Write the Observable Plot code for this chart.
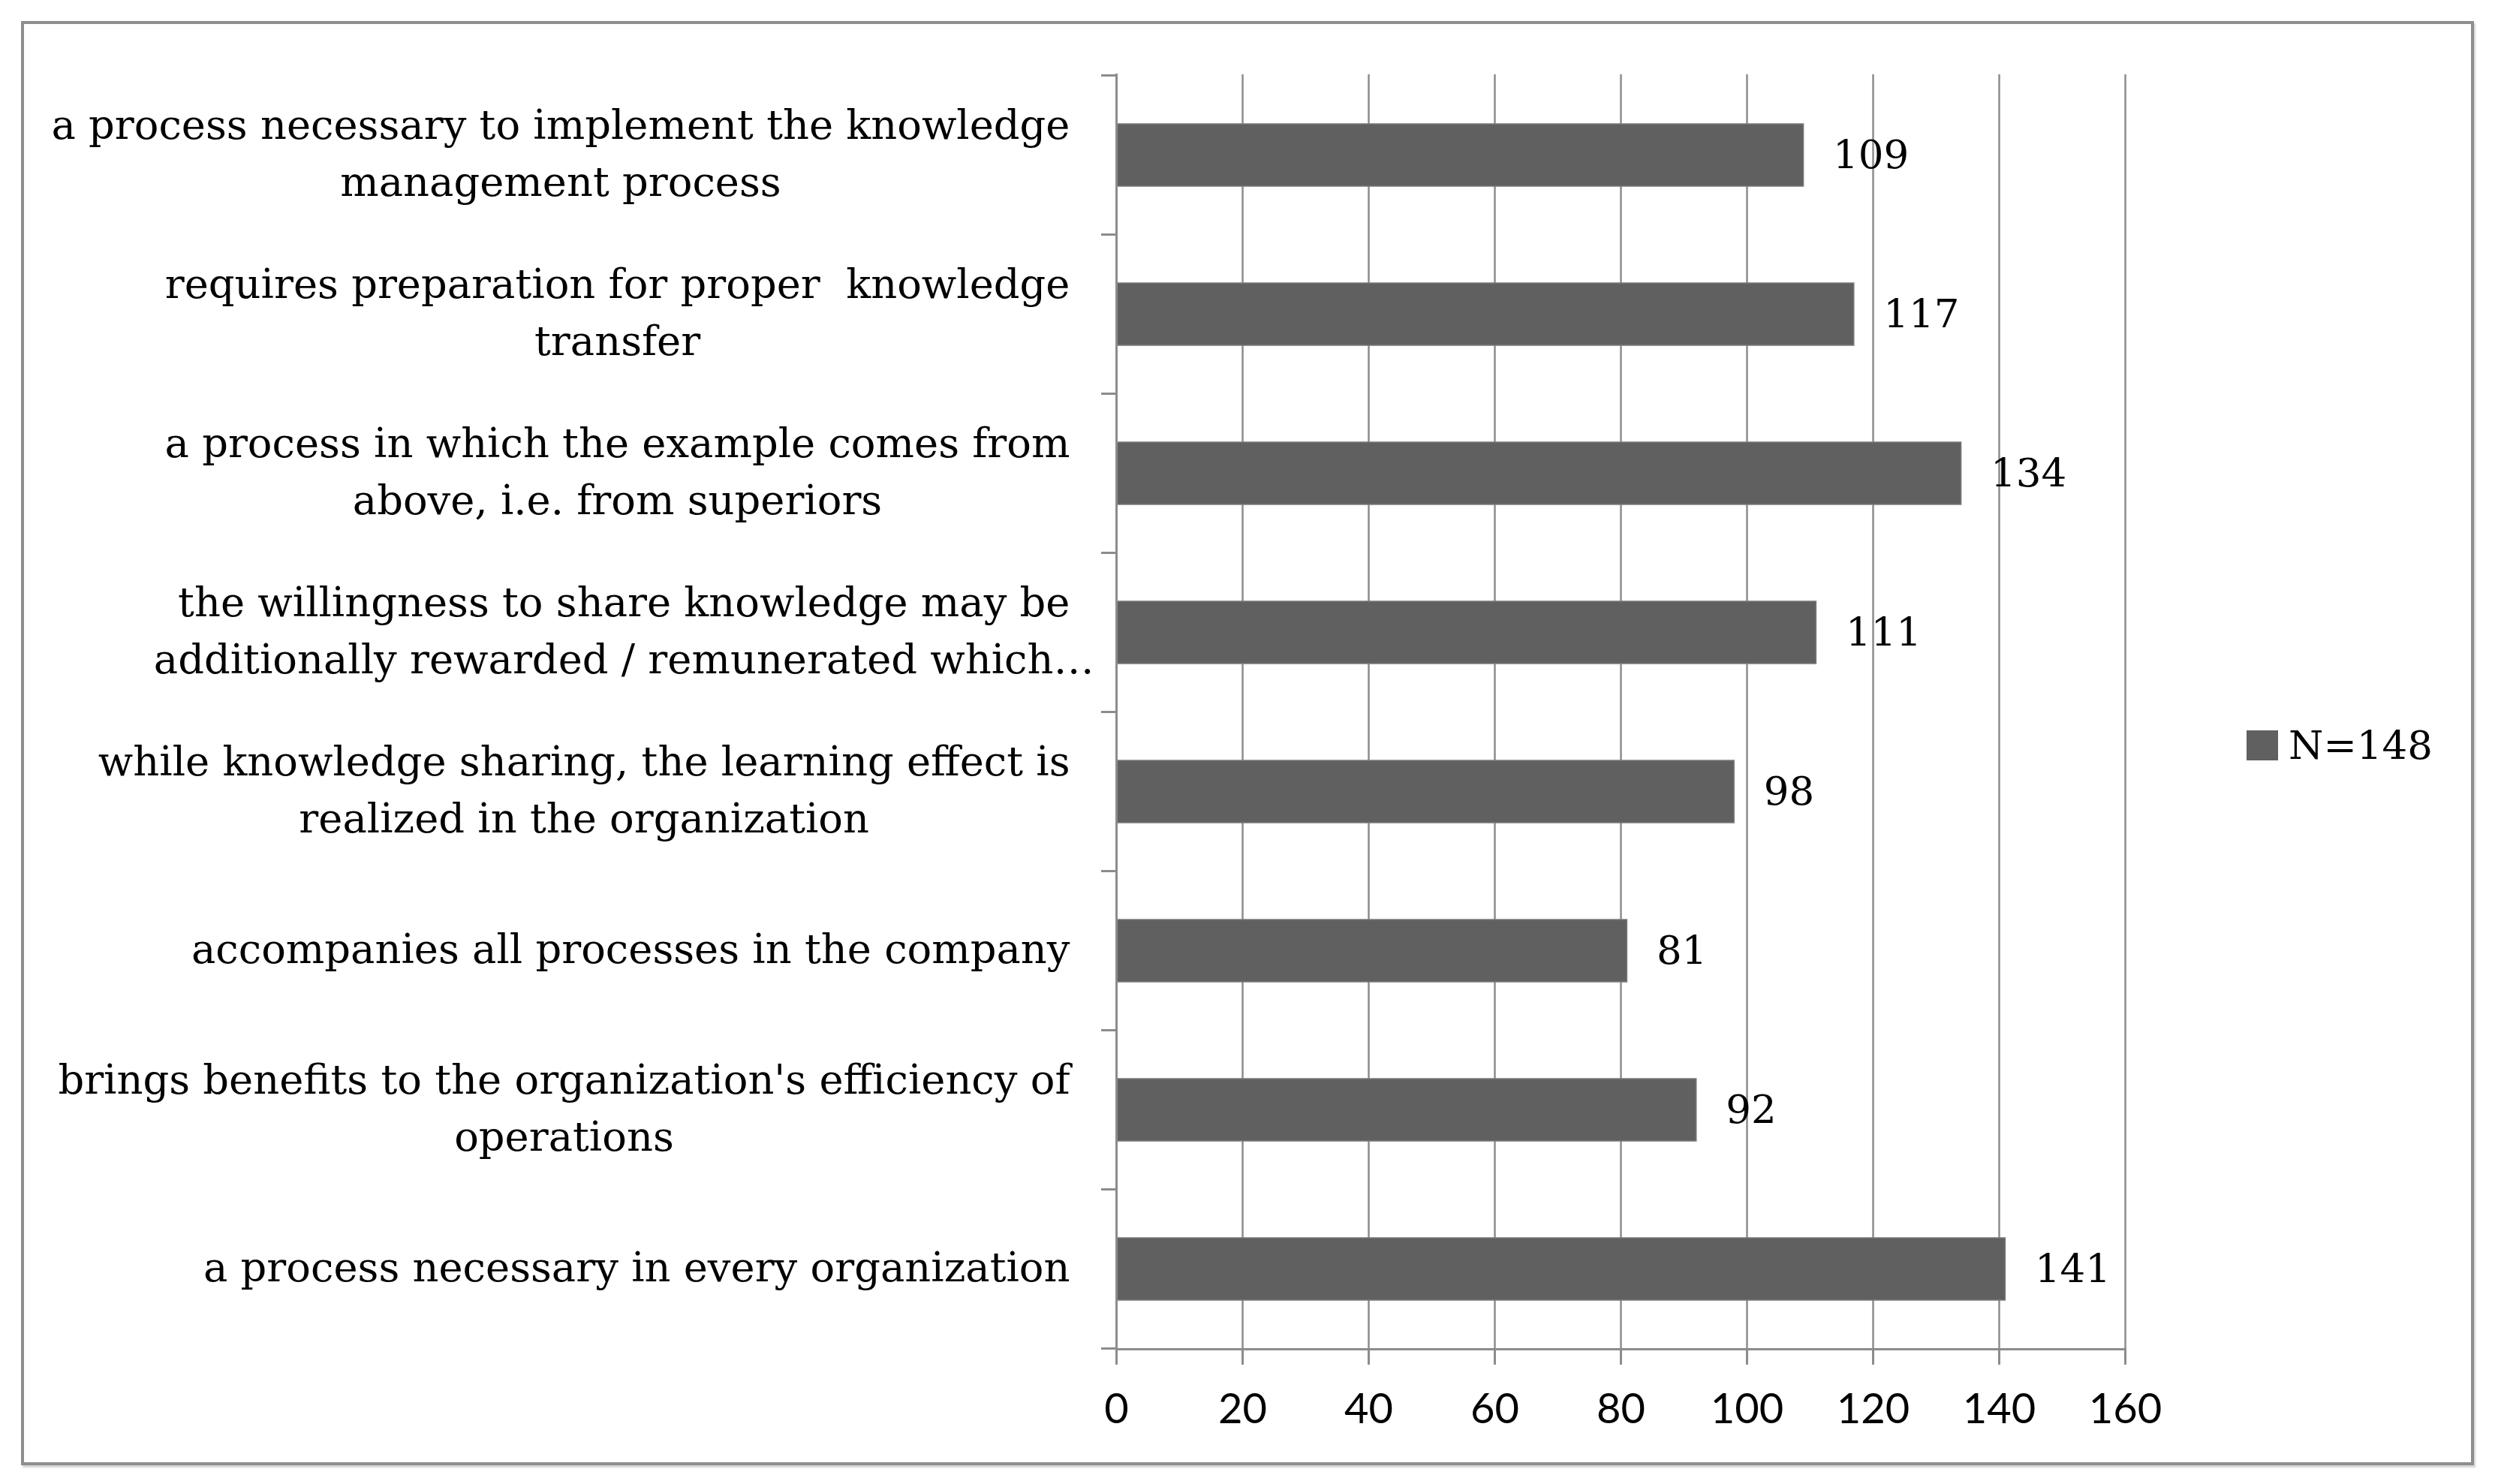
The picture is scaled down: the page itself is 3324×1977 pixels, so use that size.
<!DOCTYPE html>
<html>
<head>
<meta charset="utf-8">
<script src="https://cdn.jsdelivr.net/npm/d3@7"></script>
<script src="https://cdn.jsdelivr.net/npm/@observablehq/plot@0.6"></script>
<style>
html,body{margin:0;padding:0;background:#fff;}
#wrap{position:relative;width:3324px;height:1977px;overflow:hidden;background:#fff;}
#frame{position:absolute;left:28px;top:28px;width:3268px;height:1924px;box-sizing:border-box;border:4px solid #8e8e8e;box-shadow:2px 3px 2px #d4d4d4;}
#chart{position:absolute;left:0;top:0;}
#legend{position:absolute;left:2993px;top:962px;display:flex;align-items:center;font-family:"DejaVu Serif";font-size:53px;color:#000;}
#legend .sw{width:42px;height:40px;background:#606060;margin-right:14px;}
</style>
</head>
<body>
<div id="wrap"><div id="frame"></div><div id="chart"></div><div id="legend"></div></div>
<script>
const categories = [
  "a process necessary to implement the knowledge\nmanagement process",
  "requires preparation for proper  knowledge\ntransfer",
  "a process in which the example comes from\nabove, i.e. from superiors",
  "the willingness to share knowledge may be\nadditionally rewarded / remunerated which…",
  "while knowledge sharing, the learning effect is\nrealized in the organization",
  "accompanies all processes in the company",
  "brings benefits to the organization's efficiency of\noperations",
  "a process necessary in every organization"
];
const values = [109, 117, 134, 111, 98, 81, 92, 141];
const xTicks = [0, 20, 40, 60, 80, 100, 120, 140, 160];
const seriesName = "N=148";

const data = categories.map((c, i) => ({category: c, value: values[i]}));
const gray = "#8c8c8c";
const barFill = "#606060";

const chart = Plot.plot({
  width: 3324,
  height: 1977,
  marginLeft: 1487,
  marginRight: 493,
  marginTop: 99,
  marginBottom: 180,
  style: {background: "transparent", overflow: "visible"},
  x: {domain: [0, 160], ticks: xTicks},
  y: {domain: categories, paddingInner: 0.61, paddingOuter: 0.305},
  marks: [
    Plot.gridX(xTicks, {stroke: gray, strokeOpacity: 1, strokeWidth: 2.5}),
    Plot.barX(data, {x: "value", y: "category", fill: barFill, stroke: "#7a7a7a", strokeWidth: 1.5}),
    Plot.frame({anchor: "left", stroke: gray, strokeWidth: 3}),
    Plot.frame({anchor: "bottom", stroke: gray, strokeWidth: 3}),
    Plot.text(data, {x: "value", y: "category", text: d => String(d.value), textAnchor: "start", dx: 39,
      fontFamily: "DejaVu Serif", fontSize: 53, fill: "#000"}),
    Plot.axisX({ticks: xTicks, tickSize: 21, tickPadding: 38, stroke: gray, strokeWidth: 3,
      fill: "#000", fontSize: 56, fontFamily: "Lato", label: null}),
    Plot.axisY({tickSize: 0, tickPadding: 62, dy: -8, fill: "#000", fontSize: 54.3, fontFamily: "DejaVu Serif",
      lineHeight: 1.39, label: null})
  ]
});

document.getElementById("chart").appendChild(chart);
const svg = d3.select(chart);

// category boundary ticks on the y axis (from the band scale)
const ys = chart.scale("y");
const xs = chart.scale("x");
const off = (ys.step - ys.bandwidth) / 2;
const bounds = categories.map(c => ys.apply(c) - off);
bounds.push(bounds[bounds.length - 1] + ys.step);
const x0 = xs.apply(0);
svg.append("g").attr("stroke", gray).attr("stroke-width", 3)
  .selectAll("line").data(bounds).join("line")
  .attr("x1", x0 - 20).attr("x2", x0)
  .attr("y1", d => d).attr("y2", d => d);

// center wrapped lines under the first line (Excel-style)
svg.selectAll('g[aria-label="y-axis tick label"] text').each(function () {
  const first = this.querySelector("tspan") || this;
  const w = first.getComputedTextLength();
  this.setAttribute("text-anchor", "middle");
  const t = this.getAttribute("transform") || "";
  this.setAttribute("transform", t + ` translate(${-w / 2},0)`);
});

// legend
const lg = document.getElementById("legend");
lg.innerHTML = `<div class="sw"></div><span>${seriesName}</span>`;
</script>
</body>
</html>
